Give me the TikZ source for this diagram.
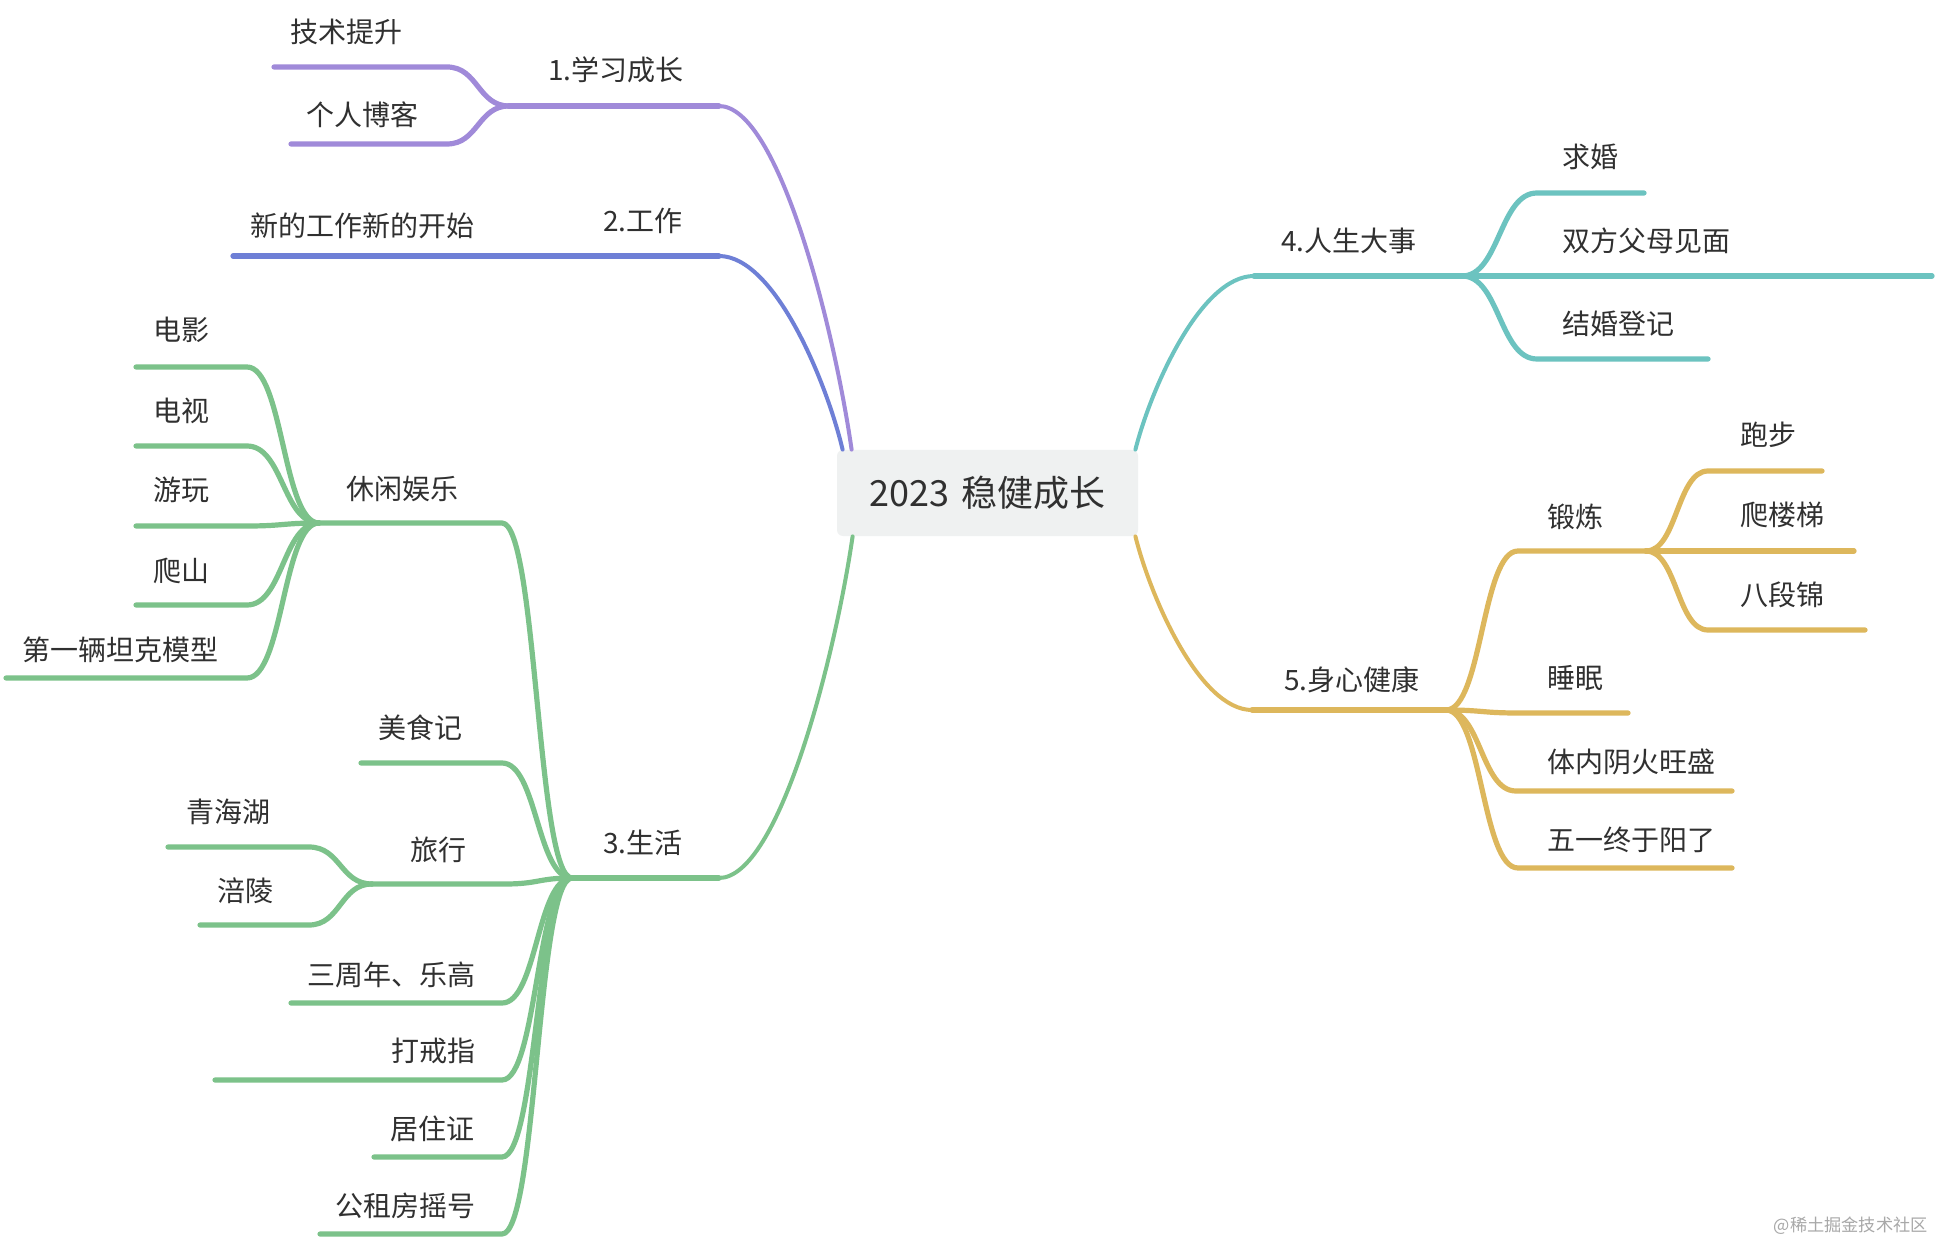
\documentclass[tikz,border=0pt]{standalone}
\usepackage{fontspec}
\setmainfont{Noto Sans CJK SC}
\definecolor{learnpurple}{HTML}{A08AD9}
\definecolor{workblue}{HTML}{6E7FD6}
\definecolor{lifegreen}{HTML}{7CC28A}
\definecolor{eventteal}{HTML}{6CC3C0}
\definecolor{healthgold}{HTML}{DDB75C}
\definecolor{rootgray}{HTML}{EFF1F1}
\definecolor{inkgray}{HTML}{303030}
\definecolor{markgray}{HTML}{A8A8A8}
\usetikzlibrary{calc, positioning}

\tikzset{
  topic/.style={font=\fontsize{14pt}{16pt}\selectfont, text=inkgray, inner sep=0pt, anchor=base west},
  branch/.style={line width=2.6pt, line cap=round, line join=round},
  link/.style={to path={let \p1=(\tikztostart), \p2=(\tikztotarget) in
    .. controls ({(\x1+\x2)/2},\y1) and ({(\x1+\x2)/2},\y2) .. (\tikztotarget)}},
  rootlink/.style={line width=2pt, line cap=round, to path={let \p1=(\tikztostart), \p2=(\tikztotarget) in
    .. controls ({\x1+0.13*(\x2-\x1)},{\y1+0.35*(\y2-\y1)}) and ({\x1+0.55*(\x2-\x1)},\y2) .. (\tikztotarget)}},
}

\begin{document}
\begin{tikzpicture}[x=0.5pt, y=-0.5pt]
  \fill[white] (0,0) rectangle (1936,1240);
  \useasboundingbox (0,0) rectangle (1936,1240);

  \node[fill=rootgray, rounded corners=3pt, minimum width=150.5pt, minimum height=43pt,
        font=\fontsize{18pt}{20pt}\selectfont, text=inkgray] (root) at (987.5,493) {2023\hspace{0.35em}稳健成长};
  \coordinate (root-learn) at ($(root.north west)+(15,0)$);
  \coordinate (root-work) at ($(root.north west)+(6,0)$);
  \coordinate (root-life) at ($(root.south west)+(16,0)$);
  \coordinate (root-event) at ($(root.north east)+(-3,0)$);
  \coordinate (root-health) at ($(root.south east)+(-3,0)$);

  % left: 1 / 2 / 3
  \coordinate (learn-j) at (509,106);
  \coordinate (learn-r) at (719,106);
  \draw[branch, learnpurple] (learn-j) -- (learn-r);
  \draw[rootlink, learnpurple] (root-learn) to (learn-r);
  \node[topic] (learn) at (548,71+10) {1.学习成长};
  \foreach \nm/\txt/\tx/\ty/\ly/\xl/\xr in {tech/技术提升/290/33/67/274/447, blog/个人博客/306/116/144/291/447}{
    \coordinate (\nm-l) at (\xl,\ly);
    \coordinate (\nm-r) at (\xr,\ly);
    \draw[branch, learnpurple] (\nm-l) -- (\nm-r) to[link] (learn-j);
    \node[topic] (\nm) at (\tx,\ty+10) {\txt};
  }

  \coordinate (job-l) at (233,256);
  \coordinate (work-l) at (583,256);
  \coordinate (work-r) at (719,256);
  \draw[branch, workblue] (job-l) -- (work-l) -- (work-r);
  \draw[rootlink, workblue] (root-work) to (work-r);
  \node[topic] (work) at (603,222+10) {2.工作};
  \node[topic] (job) at (250,227+10) {新的工作新的开始};

  \coordinate (life-j) at (572,878);
  \coordinate (life-r) at (719,878);
  \draw[branch, lifegreen] (life-j) -- (life-r);
  \draw[rootlink, lifegreen] (root-life) to (life-r);
  \node[topic] (life) at (603,843+10) {3.生活};
  \foreach \nm/\txt/\tx/\ty/\ly/\xl/\xr in {fun/休闲娱乐/346/490/523/319/502, food/美食记/378/728/763/361/502,
      trip/旅行/410/850/884/372/505, lego/三周年、乐高/307/975/1003/291/502, ring/打戒指/391/1051/1080/215/502,
      card/居住证/390/1129/1157/374/502, house/公租房摇号/335/1206/1234/320/502}{
    \coordinate (\nm-l) at (\xl,\ly);
    \coordinate (\nm-r) at (\xr,\ly);
    \draw[branch, lifegreen] (\nm-l) -- (\nm-r) to[link] (life-j);
    \node[topic] (\nm) at (\tx,\ty+10) {\txt};
  }
  \foreach \nm/\txt/\tx/\ty/\ly/\xl/\xr/\up in {movie/电影/153/331/367/136/247/fun, tv/电视/153/412/446/136/247/fun,
      play/游玩/153/491/526/136/247/fun, hike/爬山/153/571/605/136/247/fun, tank/第一辆坦克模型/22/650/678/6/247/fun,
      lake/青海湖/186/812/847/168/309/trip, fuling/涪陵/217/891/925/200/309/trip}{
    \coordinate (\nm-l) at (\xl,\ly);
    \coordinate (\nm-r) at (\xr,\ly);
    \draw[branch, lifegreen] (\nm-l) -- (\nm-r) to[link] (\up-l);
    \node[topic] (\nm) at (\tx,\ty+10) {\txt};
  }

  % right: 4 / 5
  \coordinate (event-l) at (1254,276);
  \coordinate (event-j) at (1462,276);
  \draw[rootlink, eventteal] (root-event) to (event-l);
  \draw[branch, eventteal] (event-l) -- (event-j);
  \node[topic] (event) at (1281,242+10) {4.人生大事};
  \foreach \nm/\txt/\tx/\ty/\ly/\xl/\xr in {propose/求婚/1562/158/193/1537/1644, parents/双方父母见面/1562/242/276/1462/1932,
      wed/结婚登记/1562/325/359/1537/1708}{
    \coordinate (\nm-l) at (\xl,\ly);
    \coordinate (\nm-r) at (\xr,\ly);
    \draw[branch, eventteal] (event-j) to[link] (\nm-l) -- (\nm-r);
    \node[topic] (\nm) at (\tx,\ty+10) {\txt};
  }

  \coordinate (health-l) at (1252,710);
  \coordinate (health-j) at (1446,710);
  \draw[rootlink, healthgold] (root-health) to (health-l);
  \draw[branch, healthgold] (health-l) -- (health-j);
  \node[topic] (health) at (1284,680+10) {5.身心健康};
  \foreach \nm/\txt/\tx/\ty/\ly/\xl/\xr in {sport/锻炼/1547/517/551/1518/1646, sleep/睡眠/1547/678/713/1518/1628,
      fire/体内阴火旺盛/1547/762/791/1516/1732, covid/五一终于阳了/1547/840/868/1518/1732}{
    \coordinate (\nm-l) at (\xl,\ly);
    \coordinate (\nm-r) at (\xr,\ly);
    \draw[branch, healthgold] (health-j) to[link] (\nm-l) -- (\nm-r);
    \node[topic] (\nm) at (\tx,\ty+10) {\txt};
  }
  \foreach \nm/\txt/\tx/\ty/\ly/\xl/\xr in {run/跑步/1740/435/471/1708/1822, stairs/爬楼梯/1740/515/551/1646/1854,
      baduan/八段锦/1740/595/630/1708/1865}{
    \coordinate (\nm-l) at (\xl,\ly);
    \coordinate (\nm-r) at (\xr,\ly);
    \draw[branch, healthgold] (sport-r) to[link] (\nm-l) -- (\nm-r);
    \node[topic] (\nm) at (\tx,\ty+10) {\txt};
  }

  \node[font=\fontsize{8.6pt}{10pt}\selectfont, text=markgray, inner sep=0pt, anchor=base east] (mark) at (1928,1231) {@稀土掘金技术社区};
\end{tikzpicture}
\end{document}
